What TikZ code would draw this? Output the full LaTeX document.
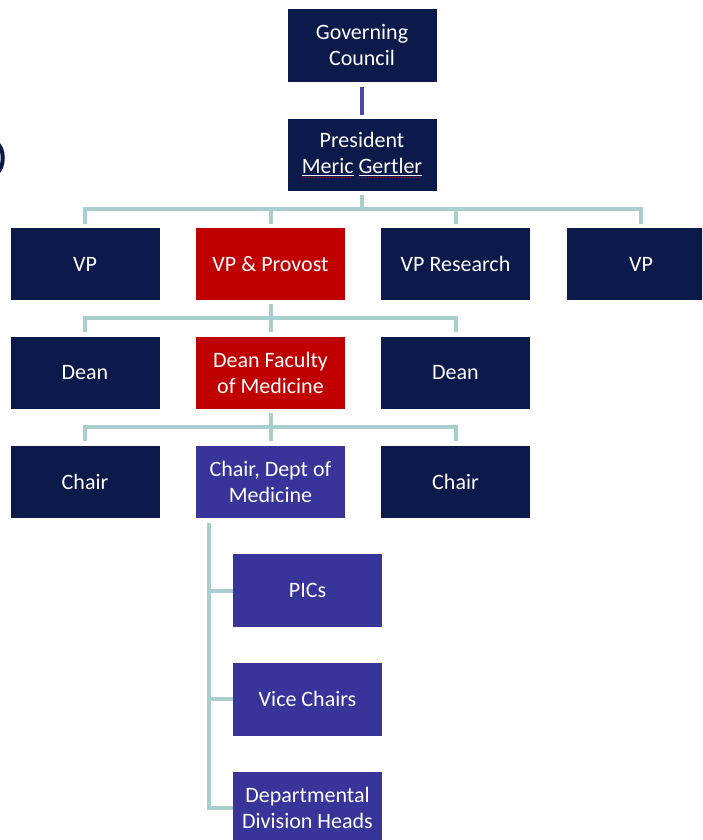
\documentclass[tikz,border=0pt]{standalone}
\usepackage{fontspec}
\setmainfont{Carlito}
\definecolor{navy}{HTML}{0B1A4A}
\definecolor{ured}{HTML}{C00000}
\definecolor{upurple}{HTML}{38349A}
\definecolor{lteal}{HTML}{A8CED0}
\definecolor{lpurple}{HTML}{4B46A8}
\newsavebox\spbox
\newcommand\spellword[1]{\sbox\spbox{#1}\rlap{\color{white!85!gray}\rule[-2.5pt]{\wd\spbox}{0.8pt}}\rlap{\color{red!75!black}\raisebox{-4pt}{\hbox to \wd\spbox{\leaders\hbox{\rule{1.5pt}{1pt}\hskip1.5pt}\hfill}}}\usebox\spbox}
\begin{document}
\begin{tikzpicture}[x=1pt,y=-1pt,
  box/.style={rectangle, minimum width=149pt, minimum height=72pt, inner sep=0pt,
    text=white, align=center, font=\fontsize{22}{26}\selectfont},
  navybox/.style={box, fill=navy},
  redbox/.style={box, fill=ured},
  purplebox/.style={box, fill=upurple},
  link/.style={draw=lteal, line width=4pt},
  plink/.style={draw=lpurple, line width=4pt}]
\useasboundingbox (0,0) rectangle (702,840);
\clip (0,0) rectangle (702,840);
% cut-off glyph at the left edge
\draw[navy, line width=4pt] (-4,143) .. controls (5,146) and (5,170) .. (-4,173);
% nodes
\node[navybox, minimum height=73pt] (gc) at (362,45.5) {Governing\\Council};
\node[navybox] (pres) at (362,155) {President\\\spellword{Meric}\ \spellword{Gertler}};
\node[navybox] (vp1) at (85,264) {VP};
\node[redbox] (prov) at (270.5,264) {VP \& Provost};
\node[navybox] (vpr) at (455.5,264) {VP Research};
\node[navybox] (vp4) at (641,264) {VP};
\node[navybox] (dean1) at (85,372.5) {Dean};
\node[redbox] (deanfm) at (270.5,372.5) {Dean Faculty\\of Medicine};
\node[navybox] (dean3) at (455.5,372.5) {Dean};
\node[navybox] (chair1) at (85,481.5) {Chair};
\node[purplebox] (chairmed) at (270.5,481.5) {Chair, Dept of\\Medicine};
\node[navybox] (chair3) at (455.5,481.5) {Chair};
\node[purplebox, minimum height=73pt] (pics) at (307.5,590.5) {PICs};
\node[purplebox, minimum height=73pt] (vice) at (307.5,699) {Vice Chairs};
\node[purplebox] (dept) at (307.5,808) {Departmental\\Division Heads};
% connectors
\draw[plink] ([yshift=-5pt]gc.south) -- ([yshift=4pt]pres.north);
\coordinate (b1) at (362,209);
\draw[link] ([yshift=-4pt]pres.south) -- (b1);
\draw[link] ([yshift=4pt]vp1.north) -- (vp1.north |- b1) -- (vp4.north |- b1) -- ([yshift=4pt]vp4.north);
\draw[link] ([yshift=4pt]prov.north) -- (prov.north |- b1);
\draw[link] ([yshift=4pt]vpr.north) -- (vpr.north |- b1);
\coordinate (b2) at (270.5,318);
\draw[link] ([yshift=-4pt]prov.south) -- (b2);
\draw[link] ([yshift=4pt]dean1.north) -- (dean1.north |- b2) -- (dean3.north |- b2) -- ([yshift=4pt]dean3.north);
\draw[link] ([yshift=4pt]deanfm.north) -- (b2);
\coordinate (b3) at (270.5,427);
\draw[link] ([yshift=-4pt]deanfm.south) -- (b3);
\draw[link] ([yshift=4pt]chair1.north) -- (chair1.north |- b3) -- (chair3.north |- b3) -- ([yshift=4pt]chair3.north);
\draw[link] ([yshift=4pt]chairmed.north) -- (b3);
\coordinate (trunk) at (209,523);
\draw[link] (trunk) |- (dept.west);
\draw[link] (trunk |- pics.west) -- (pics.west);
\draw[link] (trunk |- vice.west) -- (vice.west);
\end{tikzpicture}
\end{document}
